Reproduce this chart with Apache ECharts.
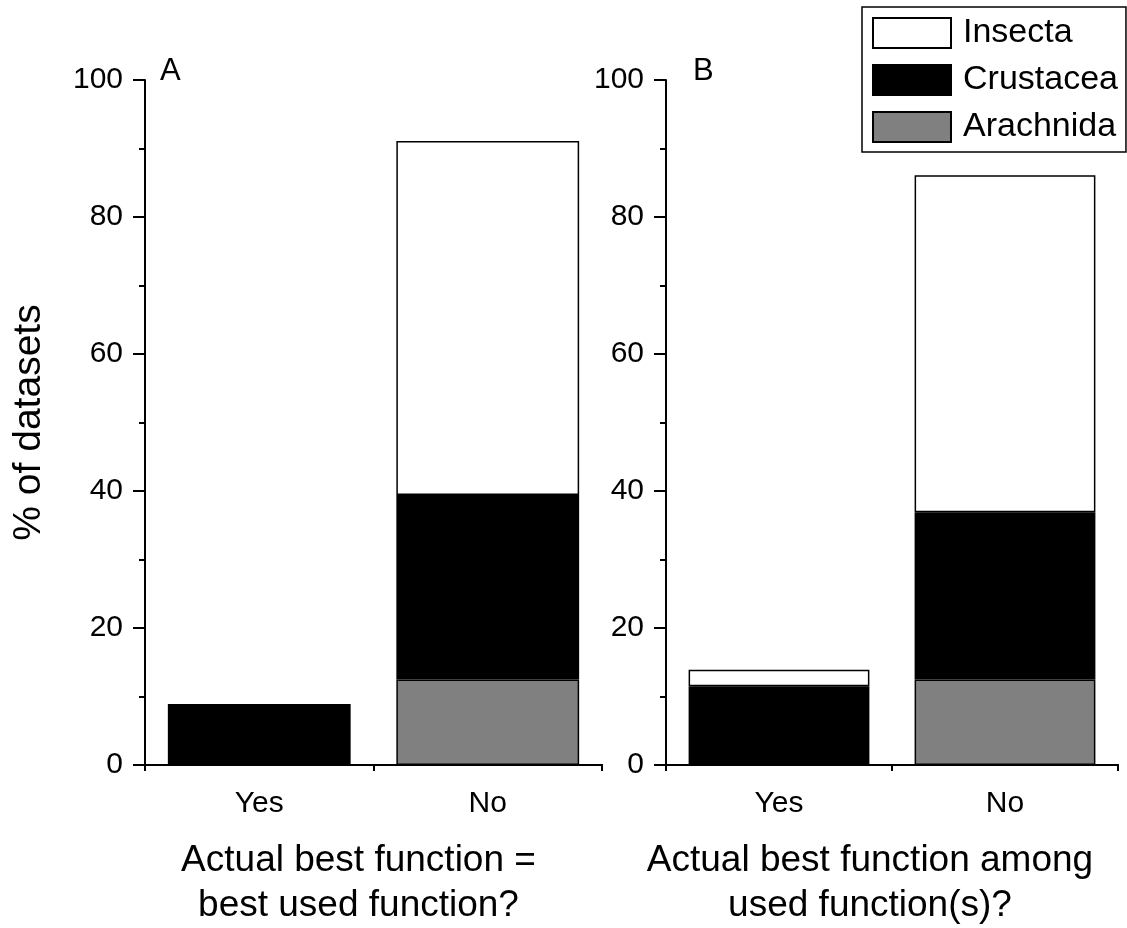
<!DOCTYPE html>
<html>
<head>
<meta charset="utf-8">
<script src="https://cdn.jsdelivr.net/npm/echarts@6/dist/echarts.min.js"></script>
<style>
html, body { margin: 0; padding: 0; background: #fff; }
#chart { width: 1127px; height: 928px; }
</style>
</head>
<body>
<div id="chart"></div>
<script>
var categories = ['Yes', 'No'];
// segment heights, % of datasets (bottom to top: Arachnida, Crustacea, Insecta)
var arachnidaA = [0, 12.5];
var crustaceaA = [8.9, 26.9];
var insectaA = [0, 51.7];
var arachnidaB = [0, 12.5];
var crustaceaB = [11.5, 24.4];
var insectaB = [2.4, 49.2];
var groups = ['Insecta', 'Crustacea', 'Arachnida'];
var panelLetters = ['A', 'B'];
var panelTitles = ['Actual best function =\nbest used function?', 'Actual best function among\nused function(s)?'];
var yTitle = '% of datasets';

var font = 'Liberation Sans, Arial, sans-serif';
var chart = echarts.init(document.getElementById('chart'));

var colors = { Insecta: '#ffffff', Crustacea: '#000000', Arachnida: '#808080' };
// titles sit a little left of the axis centre in the original
var titleShift = [30, 44];

var makeSeries = function(name, data, idx) {
    return {
        name: name,
        type: 'bar',
        stack: 'p' + idx,
        xAxisIndex: idx,
        yAxisIndex: idx,
        barCategoryGap: '20%',
        itemStyle: { color: colors[name], borderColor: '#000', borderWidth: 1.5 },
        data: data.map(function(v) { return v ? v : '-'; })
    };
};

var mainX = function(idx) {
    return {
        type: 'category',
        gridIndex: idx,
        data: categories,
        boundaryGap: true,
        position: 'bottom',
        axisLine: { lineStyle: { color: '#000', width: 2 } },
        axisTick: { alignWithLabel: true, length: 12, lineStyle: { color: '#000', width: 2 } },
        axisLabel: { color: '#000', fontSize: 30, fontFamily: font, margin: 24 },
        name: panelTitles[idx],
        nameLocation: 'middle',
        nameGap: 73,
        nameTextStyle: { color: '#000', fontSize: 37, fontFamily: font, lineHeight: 45, padding: [0, titleShift[idx], 0, 0] }
    };
};

// second category axis on each grid, only for the short ticks at the band edges
var edgeX = function(idx) {
    return {
        type: 'category',
        gridIndex: idx,
        data: categories,
        boundaryGap: true,
        position: 'bottom',
        axisLine: { show: true, lineStyle: { color: '#000', width: 2 } },
        axisTick: { show: true, alignWithLabel: false, length: 6, lineStyle: { color: '#000', width: 2 } },
        axisLabel: { show: false }
    };
};

var yAx = function(idx) {
    var ax = {
        type: 'value',
        gridIndex: idx,
        min: 0,
        max: 100,
        interval: 20,
        axisLine: { show: true, lineStyle: { color: '#000', width: 2 } },
        axisTick: { show: true, length: 12, lineStyle: { color: '#000', width: 2 } },
        minorTick: { show: true, splitNumber: 2, length: 6, lineStyle: { color: '#000', width: 2 } },
        splitLine: { show: false },
        axisLabel: { color: '#000', fontSize: 30, fontFamily: font, margin: 22 }
    };
    if (idx === 0) {
        ax.name = yTitle;
        ax.nameLocation = 'middle';
        ax.nameGap = 96;
        ax.nameTextStyle = { color: '#000', fontSize: 39, fontFamily: font };
    }
    return ax;
};

var option = {
    backgroundColor: '#fff',
    animation: false,
    grid: [
        { left: 145, top: 80, width: 457, height: 685, outerBoundsMode: 'none' },
        { left: 666, top: 80, width: 452, height: 685, outerBoundsMode: 'none' }
    ],
    xAxis: [mainX(0), mainX(1), edgeX(0), edgeX(1)],
    yAxis: [yAx(0), yAx(1)],
    legend: {
        data: groups,
        orient: 'vertical',
        left: 862,
        top: 7,
        padding: [9, 8, 8, 10],
        itemWidth: 78,
        itemHeight: 30,
        itemGap: 13,
        icon: 'rect',
        borderColor: '#000',
        borderWidth: 1.5,
        backgroundColor: '#fff',
        textStyle: { color: '#000', fontSize: 34, lineHeight: 30, fontFamily: font, padding: [0, 0, 0, 7] }
    },
    graphic: [
        { type: 'text', left: 160, top: 56, style: { text: panelLetters[0], fontSize: 31, fontFamily: font, fill: '#000' } },
        { type: 'text', left: 693, top: 56, style: { text: panelLetters[1], fontSize: 31, fontFamily: font, fill: '#000' } }
    ],
    series: [
        makeSeries('Arachnida', arachnidaA, 0),
        makeSeries('Crustacea', crustaceaA, 0),
        makeSeries('Insecta', insectaA, 0),
        makeSeries('Arachnida', arachnidaB, 1),
        makeSeries('Crustacea', crustaceaB, 1),
        makeSeries('Insecta', insectaB, 1)
    ]
};
chart.setOption(option);
</script>
</body>
</html>
